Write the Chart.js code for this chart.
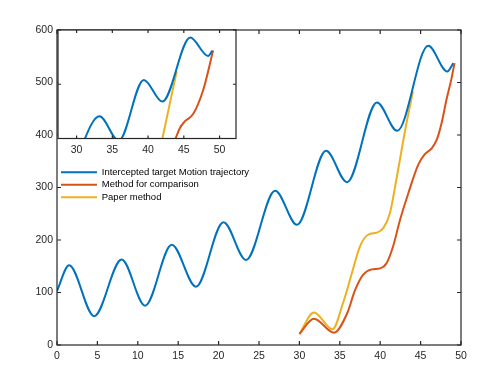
<!DOCTYPE html>
<html>
<head>
<meta charset="utf-8">
<script src="https://cdn.jsdelivr.net/npm/chart.js@4.4.1/dist/chart.umd.min.js"></script>
<style>
  body { margin: 0; background: #fff; }
  #wrap { position: relative; width: 488px; height: 386px; }
  #wrap canvas { position: absolute; left: 0; top: 0; }
  #insetChart { pointer-events: none; }
</style>
</head>
<body>
<div id="wrap">
  <canvas id="mainChart" width="488" height="386"></canvas>
  <canvas id="insetChart" width="488" height="386"></canvas>
</div>
<script>
// --- Data ---
const seriesNames = ['Intercepted target Motion trajectory', 'Method for comparison', 'Paper method'];

// main axes
const mainXTicks = [0, 5, 10, 15, 20, 25, 30, 35, 40, 45, 50];
const mainYTicks = [0, 100, 200, 300, 400, 500, 600];

// blue curve: start, every peak / trough, end
const trajX = [0, 1.5, 4.6, 8.0, 10.9, 14.2, 17.2, 20.6, 23.4, 27.0, 29.7, 33.3, 35.9, 39.6, 42.1, 45.95, 48.3, 49.05];
const trajY = [103, 152, 55, 163, 75, 191, 111, 234, 162, 294, 229, 370, 310, 462, 408, 570, 521, 537];

const compX = [30, 31.8, 34.3, 35.9, 36.9, 37.9, 38.95, 40.0, 40.8, 41.6, 42.45, 43.5, 44.7, 45.5, 46.4, 47.0, 47.6, 48.2, 48.8, 49.2];
const compY = [21, 50, 23.5, 60, 105, 134, 144, 146, 156, 188, 238, 290, 343, 363, 375, 391, 423, 467, 506, 537];

const paperX = [30, 31.8, 34.1, 35.4, 36.5, 37.5, 38.5, 39.6, 40.4, 41.2, 42.0, 43.1, 44.05];
const paperY = [21, 62, 30, 80, 137, 188, 210, 214, 223, 251, 315, 410, 483];

// inset axes
const insetXTicks = [30, 35, 40, 45, 50];
const insetYTicks = [400, 500, 600];

const insetTrajX = [29.7, 33.2, 35.9, 39.4, 42.0, 45.9, 48.4, 49.0];
const insetTrajY = [355, 441, 396, 508, 468, 586, 552, 562];

const insetCompX = [43.5, 43.85, 44.4, 45.1, 46.3, 47.7, 49.1];
const insetCompY = [390, 400, 418, 431, 445, 489, 562];

const insetPaperX = [41.8, 42.0, 43.0, 44.0];
const insetPaperY = [388, 400, 462, 523];

const colors = ['#0072BD', '#D95319', '#EDB120'];

function pts(xs, ys) {
    return xs.map((x, i) => ({ x: x, y: ys[i] }));
}

function lineSet(label, xs, ys, color) {
    return {
        label: label,
        data: pts(xs, ys),
        borderColor: color,
        backgroundColor: color,
        borderWidth: 2,
        pointRadius: 0,
        pointStyle: 'line',
        cubicInterpolationMode: 'monotone',
        fill: false,
        clip: 0
    };
}

// box around the axes with MATLAB style inward ticks
const framePlugin = {
    id: 'frame',
    beforeDatasetsDraw(chart, args, opts) {
        if (!opts.fill) return;
        const a = chart.chartArea;
        const ctx = chart.ctx;
        ctx.save();
        ctx.fillStyle = '#ffffff';
        ctx.fillRect(a.left, a.top, a.right - a.left, a.bottom - a.top);
        ctx.restore();
    },
    afterDraw(chart, args, opts) {
        const a = chart.chartArea;
        const ctx = chart.ctx;
        const xs = chart.scales.x, ys = chart.scales.y;
        const len = opts.tickLen || 4;
        ctx.save();
        ctx.strokeStyle = '#262626';
        ctx.lineWidth = 1.2;
        ctx.strokeRect(a.left, a.top, a.right - a.left, a.bottom - a.top);
        ctx.beginPath();
        opts.xTicks.forEach(v => {
            const px = xs.getPixelForValue(v);
            ctx.moveTo(px, a.bottom); ctx.lineTo(px, a.bottom - len);
            ctx.moveTo(px, a.top); ctx.lineTo(px, a.top + len);
        });
        opts.yTicks.forEach(v => {
            const py = ys.getPixelForValue(v);
            ctx.moveTo(a.left, py); ctx.lineTo(a.left + len, py);
            ctx.moveTo(a.right, py); ctx.lineTo(a.right - len, py);
        });
        ctx.stroke();
        ctx.restore();
    }
};

const tickFont = { family: "'Liberation Sans', Arial, sans-serif", size: 10.5 };

new Chart(document.getElementById('mainChart'), {
    type: 'line',
    data: {
        datasets: [
            lineSet(seriesNames[0], trajX, trajY, colors[0]),
            lineSet(seriesNames[1], compX, compY, colors[1]),
            lineSet(seriesNames[2], paperX, paperY, colors[2])
        ]
    },
    options: {
        responsive: false,
        animation: false,
        devicePixelRatio: 1,
        layout: { padding: { left: 0, right: 27, top: 30, bottom: 0 } },
        plugins: {
            legend: { display: false },
            tooltip: { enabled: false },
            frame: { xTicks: mainXTicks, yTicks: mainYTicks, tickLen: 4 }
        },
        scales: {
            x: {
                type: 'linear',
                min: 0, max: 50,
                grid: { display: false, drawTicks: false },
                border: { display: false },
                afterBuildTicks: s => { s.ticks = mainXTicks.map(v => ({ value: v })); },
                afterFit: s => { s.height = 41; },
                ticks: { color: '#262626', font: tickFont, padding: 5, maxRotation: 0 }
            },
            y: {
                type: 'linear',
                min: 0, max: 600,
                grid: { display: false, drawTicks: false },
                border: { display: false },
                afterBuildTicks: s => { s.ticks = mainYTicks.map(v => ({ value: v })); },
                afterFit: s => { s.width = 57; },
                ticks: { color: '#262626', font: tickFont, padding: 4 }
            }
        }
    },
    plugins: [framePlugin]
});

new Chart(document.getElementById('insetChart'), {
    type: 'line',
    data: {
        datasets: [
            lineSet(seriesNames[0], insetTrajX, insetTrajY, colors[0]),
            lineSet(seriesNames[1], insetCompX, insetCompY, colors[1]),
            lineSet(seriesNames[2], insetPaperX, insetPaperY, colors[2])
        ]
    },
    options: {
        responsive: false,
        animation: false,
        devicePixelRatio: 1,
        layout: { padding: { left: 58, right: 200, top: 30, bottom: 174 } },
        plugins: {
            tooltip: { enabled: false },
            legend: {
                position: 'bottom',
                align: 'start',
                fullSize: true,
                labels: {
                    usePointStyle: true,
                    pointStyle: 'line',
                    pointStyleWidth: 36,
                    boxHeight: 9.5,
                    padding: 3,
                    color: '#000000',
                    font: { family: "'Liberation Sans', Arial, sans-serif", size: 9.5 }
                }
            },
            frame: { xTicks: insetXTicks, yTicks: insetYTicks, tickLen: 3, fill: true }
        },
        scales: {
            x: {
                type: 'linear',
                min: 27.4, max: 52.3,
                grid: { display: false, drawTicks: false },
                border: { display: false },
                afterBuildTicks: s => { s.ticks = insetXTicks.map(v => ({ value: v })); },
                afterFit: s => { s.height = 26; },
                ticks: { color: '#262626', font: tickFont, padding: 5, maxRotation: 0 }
            },
            y: {
                type: 'linear',
                display: false,
                min: 400, max: 600
            },
            // empty right axis: only keeps the inset narrow while the legend gets the full width
            yPad: {
                type: 'linear',
                position: 'right',
                grid: { display: false, drawTicks: false },
                border: { display: false },
                ticks: { display: false },
                afterFit: s => { s.width = 52; }
            }
        }
    },
    plugins: [framePlugin]
});
</script>
</body>
</html>
